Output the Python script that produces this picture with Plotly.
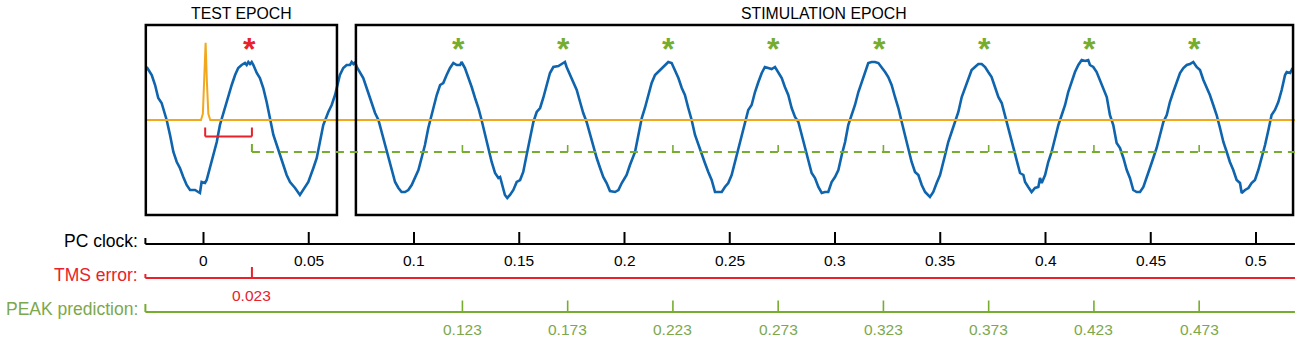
import plotly.graph_objects as go

# ---------------- data ----------------
# EEG-like signal (time in s, amplitude in arbitrary µV units)
signal_seg1 = [(-0.0270, 62), (-0.0246, 54), (-0.0230, 44), (-0.0215, 31), (-0.0199, 26), (-0.0191, 21),
               (-0.0175, 9), (-0.0159, -6), (-0.0143, -23), (-0.0127, -33), (-0.0112, -39), (-0.0096, -48),
               (-0.0080, -56), (-0.0064, -61), (-0.0040, -61), (-0.0025, -63), (-0.0017, -64), (-0.0009, -53),
               (0.0007, -54), (0.0015, -51), (0.0031, -39), (0.0047, -26), (0.0063, -13), (0.0078, 4),
               (0.0102, 21), (0.0118, 34), (0.0134, 44), (0.0150, 54), (0.0165, 61), (0.0181, 64),
               (0.0197, 66), (0.0205, 64), (0.0213, 67), (0.0221, 65), (0.0229, 67), (0.0237, 64), (0.0253, 56),
               (0.0268, 51), (0.0284, 41), (0.0300, 27), (0.0316, 9), (0.0332, -6), (0.0348, -16),
               (0.0363, -26), (0.0379, -36), (0.0395, -46), (0.0411, -53), (0.0435, -59), (0.0458, -66),
               (0.0474, -61), (0.0498, -53), (0.0522, -39), (0.0538, -29), (0.0553, -13), (0.0569, 4),
               (0.0593, 17), (0.0609, 24), (0.0625, 34), (0.0637, 44), (0.0648, 54), (0.0664, 61),
               (0.0680, 64), (0.0696, 64), (0.0704, 67), (0.0712, 65), (0.0720, 67), (0.0728, 62), (0.0743, 57),
               (0.0759, 51), (0.0775, 41), (0.0799, 27), (0.0815, 16), (0.0831, 9), (0.0846, -3),
               (0.0862, -16), (0.0878, -29), (0.0894, -43), (0.0910, -53), (0.0926, -59), (0.0941, -63),
               (0.0957, -63), (0.0973, -61), (0.0989, -56), (0.1005, -49), (0.1021, -41), (0.1036, -29),
               (0.1052, -16), (0.1068, 1), (0.1084, 14)]
signal_seg2 = [(0.1092, 19), (0.1108, 34), (0.1124, 44), (0.1139, 46), (0.1155, 54), (0.1171, 61),
               (0.1187, 66), (0.1203, 64), (0.1219, 64), (0.1226, 67), (0.1242, 61), (0.1258, 52),
               (0.1274, 42), (0.1290, 31), (0.1306, 21), (0.1321, 9), (0.1337, -6), (0.1353, -19),
               (0.1369, -33), (0.1385, -44), (0.1401, -49), (0.1409, -48), (0.1416, -53), (0.1432, -66),
               (0.1443, -69), (0.1456, -66), (0.1472, -61), (0.1488, -53), (0.1504, -51), (0.1519, -43),
               (0.1535, -26), (0.1551, -9), (0.1567, 7), (0.1583, 17), (0.1599, 21), (0.1614, 31),
               (0.1630, 44), (0.1646, 56), (0.1662, 62), (0.1686, 63), (0.1709, 66), (0.1717, 67),
               (0.1725, 62), (0.1741, 54), (0.1757, 47), (0.1773, 39), (0.1789, 27), (0.1804, 16),
               (0.1820, 7), (0.1836, -6), (0.1852, -19), (0.1868, -29), (0.1884, -39), (0.1899, -48),
               (0.1915, -54), (0.1931, -62), (0.1955, -63), (0.1971, -61), (0.1987, -54), (0.2010, -46),
               (0.2026, -36), (0.2050, -23), (0.2066, -6), (0.2082, 11), (0.2097, 21), (0.2113, 34),
               (0.2129, 46), (0.2145, 54), (0.2169, 59), (0.2192, 64), (0.2208, 67), (0.2224, 66),
               (0.2240, 59), (0.2256, 51), (0.2272, 41), (0.2287, 34), (0.2303, 21), (0.2319, 9),
               (0.2335, -6), (0.2351, -16), (0.2367, -26), (0.2382, -34), (0.2398, -43), (0.2414, -51),
               (0.2430, -63)]
signal_seg3 = [(0.2446, -63), (0.2462, -63), (0.2477, -58), (0.2493, -54), (0.2509, -46), (0.2525, -33),
               (0.2541, -19), (0.2557, -6), (0.2572, 7), (0.2588, 19), (0.2604, 24), (0.2620, 37),
               (0.2636, 47), (0.2652, 56), (0.2667, 62), (0.2683, 61), (0.2699, 60), (0.2715, 62),
               (0.2731, 57), (0.2747, 51), (0.2762, 42), (0.2778, 34), (0.2794, 21), (0.2810, 12),
               (0.2826, 7), (0.2842, -6), (0.2857, -19), (0.2873, -33), (0.2889, -44), (0.2905, -49),
               (0.2921, -58), (0.2937, -64), (0.2952, -63), (0.2968, -63), (0.2984, -53), (0.3000, -48),
               (0.3016, -41), (0.3032, -26), (0.3048, -13), (0.3063, 4), (0.3079, 14), (0.3095, 24),
               (0.3111, 37), (0.3127, 47), (0.3143, 57), (0.3158, 66), (0.3174, 67), (0.3190, 67),
               (0.3206, 66), (0.3222, 62), (0.3238, 57), (0.3253, 52), (0.3269, 44), (0.3285, 32),
               (0.3301, 21), (0.3317, 7), (0.3333, -6), (0.3348, -19), (0.3364, -33), (0.3380, -43),
               (0.3396, -46), (0.3412, -56), (0.3428, -63), (0.3451, -68), (0.3467, -63), (0.3483, -54),
               (0.3499, -46), (0.3523, -26), (0.3538, -13), (0.3554, -3), (0.3570, 7), (0.3586, 17),
               (0.3602, 32), (0.3618, 41), (0.3633, 51), (0.3649, 59), (0.3665, 62), (0.3681, 65),
               (0.3697, 65), (0.3713, 62), (0.3728, 57), (0.3744, 52), (0.3760, 42), (0.3776, 32),
               (0.3792, 26)]
signal_seg4 = [(0.3816, 7), (0.3831, -6), (0.3847, -19), (0.3863, -33), (0.3879, -44), (0.3895, -46),
               (0.3903, -53), (0.3918, -58), (0.3934, -63), (0.3950, -59), (0.3966, -58), (0.3974, -49),
               (0.3982, -54), (0.3998, -46), (0.4013, -33), (0.4029, -23), (0.4045, -9), (0.4061, 4),
               (0.4077, 14), (0.4093, 24), (0.4108, 37), (0.4124, 47), (0.4140, 57), (0.4156, 64),
               (0.4172, 69), (0.4188, 68), (0.4203, 69), (0.4211, 64), (0.4227, 62), (0.4243, 57),
               (0.4259, 49), (0.4275, 41), (0.4291, 32), (0.4306, 14), (0.4322, 4), (0.4338, -14),
               (0.4354, -19), (0.4370, -29), (0.4386, -41), (0.4401, -49), (0.4417, -61), (0.4433, -63),
               (0.4449, -63), (0.4465, -58), (0.4481, -49), (0.4496, -39), (0.4512, -29), (0.4528, -19),
               (0.4544, -6), (0.4560, 7), (0.4576, 14), (0.4591, 27), (0.4607, 37), (0.4623, 47),
               (0.4639, 56), (0.4655, 61), (0.4671, 64), (0.4686, 65), (0.4702, 67), (0.4718, 62),
               (0.4734, 59), (0.4750, 49), (0.4766, 41), (0.4781, 34), (0.4797, 24), (0.4813, 14),
               (0.4829, 1), (0.4845, -13), (0.4861, -23), (0.4876, -33), (0.4892, -41), (0.4908, -51),
               (0.4924, -54), (0.4932, -64), (0.4948, -61), (0.4964, -59), (0.4979, -54), (0.4995, -51),
               (0.5011, -41), (0.5027, -29), (0.5043, -16), (0.5059, -1), (0.5074, 14), (0.5090, 19),
               (0.5106, 27), (0.5122, 39), (0.5138, 54), (0.5146, 57), (0.5162, 56), (0.5174, 61)]

# TMS trigger channel (normalised)
trigger_t = [-0.0276, -0.0012, -0.0003, 0.0004, 0.0010, 0.0016, 0.0023, 0.0032, 0.5185]
trigger_v = [0, 0, 0.08, 0.5, 1.0, 0.5, 0.08, 0, 0]

# time axes
pc_clock_ticks = [0, 0.05, 0.1, 0.15, 0.2, 0.25, 0.3, 0.35, 0.4, 0.45, 0.5]
pc_clock_labels = ["0", "0.05", "0.1", "0.15", "0.2", "0.25", "0.3", "0.35", "0.4", "0.45", "0.5"]
tms_error_ticks = [0.023]
tms_error_labels = ["0.023"]
peak_pred_ticks = [0.123, 0.173, 0.223, 0.273, 0.323, 0.373, 0.423, 0.473]
peak_pred_labels = ["0.123", "0.173", "0.223", "0.273", "0.323", "0.373", "0.423", "0.473"]
tms_time = 0.0008
test_peak = [0.022]
stim_peaks = [0.121, 0.171, 0.221, 0.271, 0.321, 0.371, 0.421, 0.471]
epoch_names = ["TEST EPOCH", "STIMULATION EPOCH"]
epoch_start = [-0.0274, 0.0724]
epoch_end = [0.0634, 0.5176]

# ---------------- layout constants ----------------
W, H = 1300, 342
T0_PX, PX_PER_S = 203.5, 2105.0
AX_START, AX_END = -0.0276, 0.5185
BLUE = "#0f64ae"
ORANGE = "#f2a81d"
RED = "#e8212b"
GREEN = "#76ad2e"
GREEN_TXT = "#7ba84c"
FONT = "Arial, 'Liberation Sans', sans-serif"


def row(py):
    return 1 - py / H


def col(px):
    return px / W


sig = signal_seg1 + signal_seg2 + signal_seg3 + signal_seg4
sig_t = [p[0] for p in sig]
sig_v = [p[1] for p in sig]

fig = go.Figure()
fig.add_trace(go.Scatter(x=trigger_t, y=trigger_v, mode="lines", yaxis="y2",
                         line=dict(color=ORANGE, width=2), hoverinfo="skip", showlegend=False))
fig.add_trace(go.Scatter(x=sig_t, y=sig_v, mode="lines",
                         line=dict(color=BLUE, width=2.6), hoverinfo="skip", showlegend=False))

shapes = []
annotations = []


def seg(x0, x1, py0, py1, color, width=2, dash=None, xref="x"):
    ln = dict(color=color, width=width)
    if dash:
        ln["dash"] = dash
    shapes.append(dict(type="line", xref=xref, yref="paper", x0=x0, x1=x1,
                       y0=row(py0), y1=row(py1), line=ln))


def text(x, py, s, color, size=16, xanchor="center", xref="x"):
    annotations.append(dict(x=x, y=row(py), xref=xref, yref="paper", text=s, showarrow=False,
                            xanchor=xanchor, yanchor="middle",
                            font=dict(family=FONT, size=size, color=color)))


# epoch boxes + titles
for name, a, b in zip(epoch_names, epoch_start, epoch_end):
    shapes.append(dict(type="rect", xref="x", yref="paper", x0=a, x1=b, y0=row(215), y1=row(25),
                       line=dict(color="black", width=2.5), fillcolor="rgba(0,0,0,0)"))
    text((a + b) / 2, 13.5, name, "black", size=15.8)

# red bracket (TMS error)
seg(tms_time, tms_error_ticks[0], 136.5, 136.5, RED, 2)
seg(tms_time, tms_time, 136.5, 127.5, RED, 2)
seg(tms_error_ticks[0], tms_error_ticks[0], 136.5, 127.5, RED, 2)

# green dashed prediction line with ticks
seg(tms_error_ticks[0], AX_END, 152, 152, GREEN, 2, dash="8px,6px")
seg(tms_error_ticks[0], tms_error_ticks[0], 152, 144, GREEN, 2)
for t in peak_pred_ticks:
    seg(t, t, 152, 145, GREEN, 1.6)

# asterisks
for t in test_peak:
    text(t, 49, "<b>*</b>", RED, size=32)
for t in stim_peaks:
    text(t, 49, "<b>*</b>", GREEN, size=32)

# PC clock axis
seg(AX_START, AX_END, 244, 244, "black", 2)
seg(AX_START, AX_START, 244, 238, "black", 2)
for t, lab in zip(pc_clock_ticks, pc_clock_labels):
    seg(t, t, 244, 232, "black", 2)
    text(t, 260, lab, "black", size=15.5)
text(col(140), 241, "PC clock:", "black", size=17.5, xanchor="right", xref="paper")

# TMS error axis
seg(AX_START, AX_END, 278, 278, RED, 2)
seg(AX_START, AX_START, 278, 274, RED, 2)
for t, lab in zip(tms_error_ticks, tms_error_labels):
    seg(t, t, 278, 267, RED, 2)
    text(t, 295.5, lab, RED, size=15.5)
text(col(140), 275, "TMS error:", RED, size=17.5, xanchor="right", xref="paper")

# PEAK prediction axis
seg(AX_START, AX_END, 312, 312, GREEN, 2)
seg(AX_START, AX_START, 312, 304, GREEN, 2)
for t, lab in zip(peak_pred_ticks, peak_pred_labels):
    seg(t, t, 312, 300.5, GREEN, 1.6)
    text(t, 329, lab, GREEN_TXT, size=15.5)
text(col(140), 308.5, "PEAK prediction:", GREEN_TXT, size=17.5, xanchor="right", xref="paper")

x_lo = (0 - T0_PX) / PX_PER_S
x_hi = (W - T0_PX) / PX_PER_S
sig_per_px = 1.0       # signal units per pixel
trig_per_px = 1 / 77.3  # trigger units per pixel
fig.update_layout(
    width=W, height=H,
    margin=dict(l=0, r=0, t=0, b=0),
    paper_bgcolor="white", plot_bgcolor="white",
    xaxis=dict(range=[x_lo, x_hi], visible=False, domain=[0, 1]),
    yaxis=dict(range=[-(H - 129) * sig_per_px, 129 * sig_per_px], visible=False, domain=[0, 1]),
    yaxis2=dict(range=[-(H - 120) * trig_per_px, 120 * trig_per_px], visible=False,
                overlaying="y", domain=[0, 1]),
    shapes=shapes,
    annotations=annotations,
    showlegend=False,
)
fig.write_html("out.html", config={"displayModeBar": False},
               post_script="document.body.style.margin='0';document.body.style.overflow='hidden';")
